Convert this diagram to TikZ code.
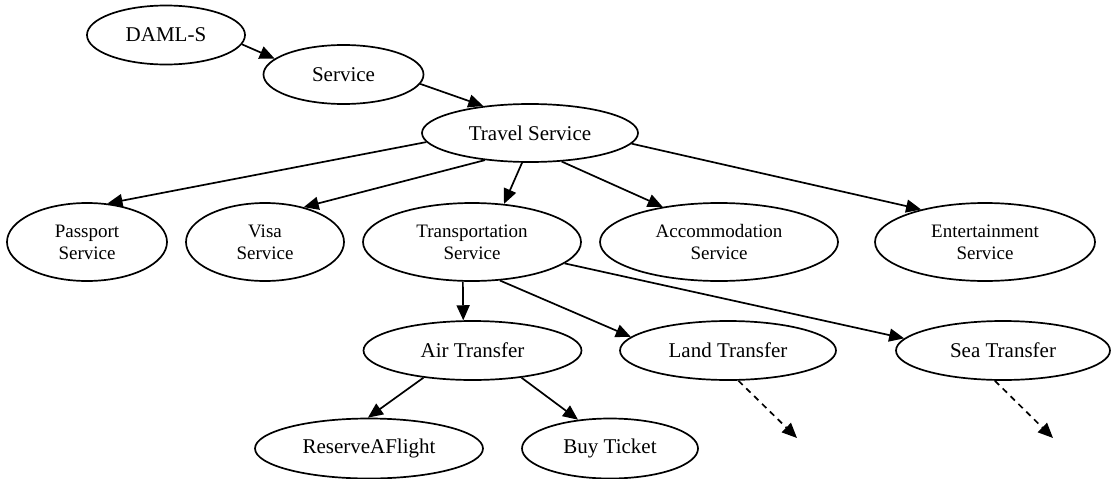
\documentclass[tikz,border=0pt]{standalone}
\usepackage{fontspec}
\setmainfont{Liberation Serif}
\usetikzlibrary{arrows.meta,shapes.geometric}
\tikzset{
  ell/.style={draw, ellipse, line width=1.7pt, inner sep=0pt, align=center},
  big/.style={font=\fontsize{21}{24}\selectfont},
  small/.style={font=\fontsize{19}{22}\selectfont},
  arr/.style={line width=1.7pt, -{Triangle[length=15pt,width=13pt]}},
  darr/.style={arr, dash pattern=on 6pt off 5pt}
}
\begin{document}
\begin{tikzpicture}[x=1pt,y=-1pt]
\useasboundingbox (0,0) rectangle (1111,479);
\node[ell,big,minimum width=158pt,minimum height=59pt] (daml) at (166,35) {DAML-S};
\node[ell,big,minimum width=160pt,minimum height=59pt] (serv) at (343.5,74.5) {Service};
\node[ell,big,minimum width=216pt,minimum height=58pt] (trav) at (530,133) {Travel Service};
\node[ell,small,minimum width=160pt,minimum height=78pt] (pass) at (87,242) {Passport\\Service};
\node[ell,small,minimum width=158pt,minimum height=78pt] (visa) at (265,242) {Visa\\Service};
\node[ell,small,minimum width=218pt,minimum height=78pt] (trans) at (472,242) {Transportation\\Service};
\node[ell,small,minimum width=238pt,minimum height=78pt] (acc) at (719,242) {Accommodation\\Service};
\node[ell,small,minimum width=220pt,minimum height=78pt] (ent) at (985,242) {Entertainment\\Service};
\node[ell,big,minimum width=218pt,minimum height=59pt] (air) at (472.5,350.5) {Air Transfer};
\node[ell,big,minimum width=216pt,minimum height=59pt] (land) at (728,350.5) {Land Transfer};
\node[ell,big,minimum width=214pt,minimum height=59pt] (sea) at (1003,350.5) {Sea Transfer};
\node[ell,big,minimum width=228pt,minimum height=60pt] (res) at (369,448.5) {ReserveAFlight};
\node[ell,big,minimum width=176pt,minimum height=60pt] (buy) at (610,448.5) {Buy Ticket};
\coordinate (landend) at (797,438);
\coordinate (seaend) at (1053,438);

\draw[arr] (daml.-7) -- (serv.167);
\draw[arr] (serv.-7) -- (trav.150);
\draw[arr] (trav.185) -- (pass.62);
\draw[arr] (trav.211) -- (visa.42);
\draw[arr] (trav.-105) -- (trans.50);
\draw[arr] (trav.-42) -- (acc.148);
\draw[arr] (trav.-6) -- (ent.153);
\draw[arr] (trans.-103) -- (air.107);
\draw[arr] (trans.-54) -- (land.172);
\draw[arr] (trans.-13) -- (sea.173);
\draw[arr] (air.209) -- (res.92);
\draw[arr] (air.-29) -- (buy.138);
\draw[darr] (land.-71) -- (landend);
\draw[darr] (sea.-105) -- (seaend);
\end{tikzpicture}
\end{document}
